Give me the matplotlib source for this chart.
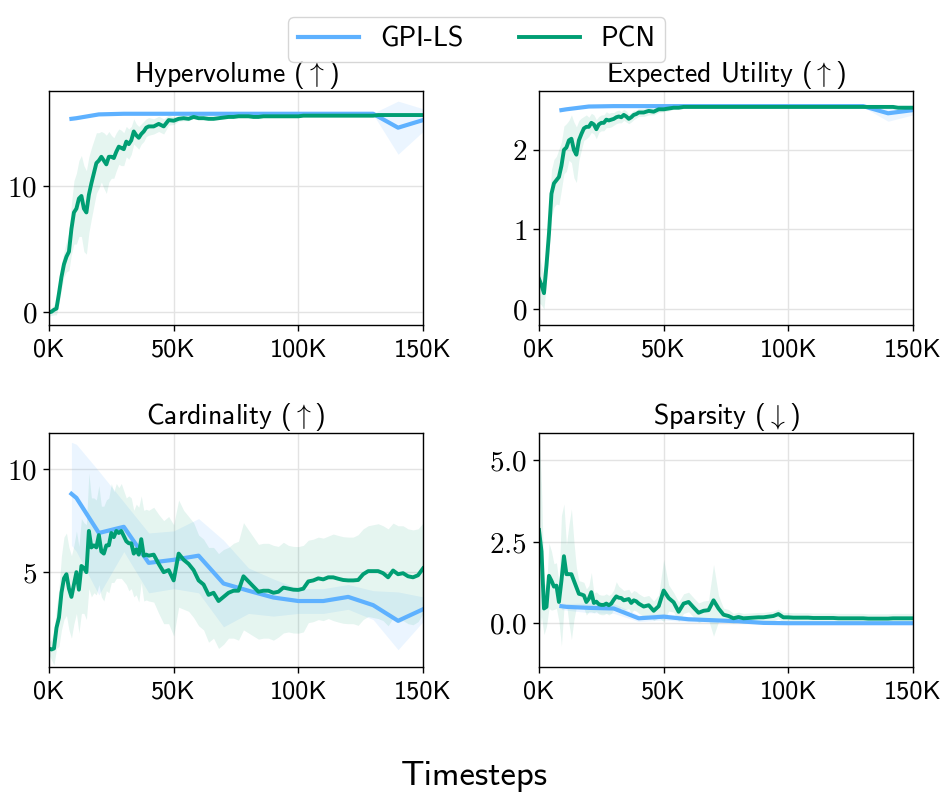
import matplotlib
matplotlib.use("Agg")
import matplotlib.pyplot as plt
import numpy as np

plt.rcParams["mathtext.fontset"] = "cm"
plt.rcParams["font.family"] = ["cmss10", "DejaVu Sans"]
plt.rcParams["axes.unicode_minus"] = False

# ---------------------------------------------------------------- data
# evaluation timesteps (thousands)
PCN_STEPS_K = [0, 1, 2, 3, 4, 5, 6, 7, 8, 9,
               10, 11, 12, 13, 14, 15, 16, 17, 18, 19,
               20, 21, 22, 23, 24, 25, 26, 27, 28, 29,
               30, 31, 32, 33, 34, 35, 36, 37, 38, 39,
               40,
               42, 44, 46, 48, 50, 52, 54, 56, 58, 60,
               62, 64, 66, 68, 70, 72, 74, 76, 78, 80,
               82, 84, 86, 88, 90, 92, 94, 96, 98, 100,
               102, 104, 106, 108, 110, 112, 114, 116, 118, 120,
               122, 124, 126, 128, 130, 132, 134, 136, 138, 140,
               142, 144, 146, 148, 150]
GPI_STEPS_K = [9, 11, 20, 30, 40, 50, 60, 70, 80, 90, 100, 110, 120, 130, 140, 150]

# PCN
pcn_hv = [0.0, 0.05, 0.2, 0.3, 1.5, 2.8, 3.8, 4.4, 4.8, 6.6,
          7.9, 8.2, 9.0, 9.2, 8.2, 7.9, 9.3, 10.2, 11.0, 11.8,
          12.0, 12.3, 12.0, 11.7, 12.3, 12.3, 12.2, 12.7, 13.1, 13.0,
          12.9, 13.5, 13.3, 13.6, 14.3, 14.0, 13.8, 14.1, 14.3, 14.6,
          14.7,
          14.7, 14.9, 14.7, 15.2, 15.15, 15.3, 15.35, 15.3, 15.45, 15.35,
          15.35, 15.3, 15.3, 15.35, 15.4, 15.45, 15.45, 15.5, 15.5, 15.5,
          15.45, 15.45, 15.5, 15.5, 15.5, 15.5, 15.5, 15.5, 15.5, 15.5,
          15.55, 15.55, 15.55, 15.55, 15.55, 15.55, 15.55, 15.55, 15.55, 15.55,
          15.55, 15.55, 15.55, 15.55, 15.55, 15.6, 15.6, 15.6, 15.6, 15.6,
          15.6, 15.6, 15.6, 15.6, 15.6]
pcn_hv_std = [0.3, 0.3, 0.4, 0.5, 0.8, 1.0, 1.0, 1.2, 1.5, 2.0,
              2.5, 2.8, 3.0, 3.2, 3.4, 3.3, 3.0, 2.8, 2.6, 2.4,
              2.2, 2.0, 2.2, 2.3, 2.0, 1.7, 1.6, 1.5, 1.4, 1.4,
              1.3, 1.2, 1.2, 1.1, 1.0, 0.9, 0.9, 0.8, 0.8, 0.7,
              0.7,
              0.6, 0.6, 0.6, 0.4, 0.3, 0.2, 0.2, 0.15, 0.1, 0.1,
              0.1, 0.1, 0.1, 0.1, 0.1, 0.1, 0.1, 0.1, 0.1, 0.1,
              0.1, 0.1, 0.1, 0.1, 0.1, 0.1, 0.1, 0.1, 0.1, 0.1,
              0.1, 0.1, 0.1, 0.1, 0.1, 0.1, 0.1, 0.1, 0.1, 0.1,
              0.1, 0.1, 0.1, 0.1, 0.1, 0.1, 0.1, 0.1, 0.1, 0.1,
              0.1, 0.1, 0.1, 0.1, 0.1]

pcn_eu = [0.38, 0.3, 0.2, 0.55, 0.95, 1.45, 1.58, 1.62, 1.66, 1.8,
          2.0, 2.03, 2.12, 2.14, 2.0, 1.94, 2.12, 2.2, 2.27, 2.29,
          2.29, 2.34, 2.32, 2.26, 2.32, 2.34, 2.34, 2.38, 2.37, 2.38,
          2.39, 2.41, 2.42, 2.41, 2.44, 2.42, 2.39, 2.41, 2.44, 2.45,
          2.47,
          2.47, 2.49, 2.48, 2.51, 2.51, 2.52, 2.53, 2.53, 2.54, 2.54,
          2.54, 2.54, 2.54, 2.54, 2.54, 2.54, 2.54, 2.54, 2.54, 2.54,
          2.54, 2.54, 2.54, 2.54, 2.54, 2.54, 2.54, 2.54, 2.54, 2.54,
          2.54, 2.54, 2.54, 2.54, 2.54, 2.54, 2.54, 2.54, 2.54, 2.54,
          2.54, 2.54, 2.54, 2.54, 2.54, 2.54, 2.54, 2.54, 2.54, 2.54,
          2.54, 2.53, 2.53, 2.53, 2.53]
pcn_eu_std = [0.3, 0.25, 0.2, 0.2, 0.25, 0.3, 0.3, 0.3, 0.35, 0.3,
              0.3, 0.3, 0.25, 0.3, 0.35, 0.35, 0.25, 0.2, 0.15, 0.15,
              0.12, 0.12, 0.12, 0.12, 0.1, 0.1, 0.1, 0.1, 0.09, 0.09,
              0.08, 0.08, 0.08, 0.07, 0.07, 0.07, 0.06, 0.06, 0.06, 0.05,
              0.05,
              0.05, 0.05, 0.04, 0.04, 0.03, 0.03, 0.02, 0.02, 0.02, 0.02,
              0.02, 0.02, 0.02, 0.02, 0.02, 0.02, 0.02, 0.02, 0.02, 0.02,
              0.02, 0.02, 0.02, 0.02, 0.02, 0.02, 0.02, 0.02, 0.02, 0.02,
              0.02, 0.02, 0.02, 0.02, 0.02, 0.02, 0.02, 0.02, 0.02, 0.02,
              0.02, 0.02, 0.02, 0.02, 0.02, 0.02, 0.02, 0.02, 0.02, 0.02,
              0.02, 0.02, 0.02, 0.02, 0.02]

pcn_card = [1.3, 1.25, 1.3, 2.3, 2.8, 4.0, 4.7, 4.9, 4.2, 3.8,
            4.4, 5.0, 4.15, 5.3, 5.2, 5.0, 7.0, 6.2, 6.3, 6.2,
            6.8, 6.0, 5.9, 6.3, 6.3, 6.9, 6.7, 7.0, 6.9, 7.0,
            6.75, 6.5, 6.4, 6.4, 5.9, 6.1, 5.85, 6.6, 5.8, 5.85,
            5.8,
            5.85, 5.4, 5.0, 5.1, 4.6, 5.9, 5.6, 5.4, 5.1, 4.6,
            4.4, 3.9, 4.0, 3.6, 3.8, 4.0, 4.1, 4.1, 4.8, 4.55,
            4.3, 4.05, 4.1, 4.1, 4.0, 4.05, 4.25, 4.2, 4.15, 4.14,
            4.2, 4.55, 4.6, 4.7, 4.65, 4.75, 4.75, 4.68, 4.62, 4.6,
            4.6, 4.62, 4.9, 5.05, 5.05, 5.05, 4.95, 4.75, 5.08, 4.9,
            4.95, 4.8, 4.75, 4.85, 5.18]
pcn_card_std = [0.3, 0.5, 0.8, 1.0, 1.4, 1.8, 2.0, 2.0, 2.0, 2.0,
                1.9, 2.0, 2.1, 2.3, 2.2, 2.3, 2.8, 2.4, 2.3, 2.3,
                2.4, 2.2, 2.3, 2.2, 2.3, 2.4, 2.2, 2.3, 2.2, 2.3,
                2.2, 2.1, 2.3, 2.2, 2.1, 2.2, 2.3, 2.1, 2.2, 2.2,
                2.2,
                2.3, 2.4, 2.5, 2.6, 2.7, 2.6, 2.4, 2.3, 2.3, 2.2,
                2.2, 2.3, 2.2, 2.3, 2.3, 2.2, 2.3, 2.4, 2.6, 2.5,
                2.4, 2.3, 2.3, 2.3, 2.3, 2.2, 2.2, 2.1, 2.1, 2.1,
                2.1, 2.0, 2.0, 2.0, 2.0, 2.0, 2.1, 2.1, 2.1, 2.1,
                2.1, 2.2, 2.2, 2.2, 2.25, 2.3, 2.3, 2.35, 2.3, 2.35,
                2.3, 2.3, 2.3, 2.25, 2.2]

pcn_sp = [2.85, 2.2, 0.45, 0.5, 1.45, 1.3, 1.12, 1.15, 0.65, 1.3,
          2.05, 1.5, 1.5, 1.5, 1.3, 1.1, 0.9, 0.88, 0.85, 0.65,
          0.75, 0.95, 0.62, 0.66, 0.58, 0.56, 0.56, 0.6, 0.55, 0.6,
          0.72, 0.82, 0.78, 0.77, 0.7, 0.72, 0.74, 0.62, 0.7, 0.67,
          0.6,
          0.51, 0.55, 0.38, 0.52, 1.0, 0.77, 0.64, 0.35, 0.6, 0.65,
          0.48, 0.32, 0.38, 0.4, 0.7, 0.45, 0.26, 0.22, 0.15, 0.19,
          0.15, 0.16, 0.17, 0.18, 0.18, 0.2, 0.22, 0.28, 0.18, 0.18,
          0.17, 0.17, 0.17, 0.17, 0.16, 0.16, 0.16, 0.16, 0.16, 0.15,
          0.15, 0.15, 0.15, 0.15, 0.15, 0.14, 0.14, 0.14, 0.14, 0.14,
          0.15, 0.15, 0.15, 0.15, 0.15]
pcn_sp_std = [3.2, 2.0, 0.8, 0.6, 1.0, 0.9, 0.7, 0.7, 0.6, 2.0,
              1.6, 0.9, 1.5, 2.0, 1.2, 0.6, 0.4, 0.4, 0.4, 0.4,
              0.4, 0.6, 0.3, 0.3, 0.3, 0.3, 0.3, 0.3, 0.3, 0.3,
              0.3, 0.45, 0.35, 0.3, 0.3, 0.3, 0.3, 0.3, 0.3, 0.3,
              0.3,
              0.3, 0.3, 0.3, 0.35, 0.95, 0.4, 0.3, 0.3, 0.3, 0.3,
              0.3, 0.3, 0.3, 0.3, 1.1, 0.4, 0.2, 0.2, 0.15, 0.15,
              0.15, 0.15, 0.15, 0.15, 0.15, 0.15, 0.15, 0.15, 0.15, 0.15,
              0.15, 0.15, 0.15, 0.15, 0.15, 0.15, 0.15, 0.15, 0.15, 0.15,
              0.15, 0.15, 0.15, 0.15, 0.15, 0.15, 0.15, 0.15, 0.15, 0.15,
              0.15, 0.15, 0.15, 0.15, 0.15]

# GPI-LS
gpi_hv = [15.3, 15.35, 15.65, 15.7, 15.7, 15.7, 15.7, 15.7, 15.7, 15.7,
          15.7, 15.7, 15.7, 15.7, 14.6, 15.2]
gpi_hv_std = [0.1, 0.1, 0.05, 0.05, 0.05, 0.05, 0.05, 0.05, 0.05, 0.05,
              0.05, 0.05, 0.05, 0.05, 2.1, 0.9]
gpi_eu = [2.50, 2.51, 2.545, 2.55, 2.55, 2.55, 2.55, 2.55, 2.55, 2.55,
          2.55, 2.55, 2.55, 2.55, 2.46, 2.50]
gpi_eu_std = [0.01, 0.01, 0.01, 0.01, 0.01, 0.01, 0.01, 0.01, 0.01, 0.01,
              0.01, 0.01, 0.01, 0.01, 0.1, 0.06]
gpi_card = [8.8, 8.6, 6.9, 7.2, 5.45, 5.6, 5.8, 4.45, 4.1, 3.77,
            3.6, 3.6, 3.8, 3.4, 2.64, 3.2]
gpi_card_std = [2.5, 2.6, 3.0, 1.2, 1.45, 1.4, 1.8, 2.1, 1.1, 0.9,
                0.6, 0.6, 0.6, 0.7, 1.4, 0.6]
gpi_sp = [0.52, 0.5, 0.47, 0.45, 0.15, 0.2, 0.12, 0.09, 0.06, 0.01,
          0.0, 0.0, 0.0, 0.0, 0.0, 0.0]
gpi_sp_std = [0.1, 0.1, 0.15, 0.15, 0.1, 0.1, 0.08, 0.06, 0.04, 0.02,
              0.02, 0.02, 0.02, 0.02, 0.02, 0.02]

TITLES = [r"Hypervolume ($\uparrow$)", r"Expected Utility ($\uparrow$)",
          r"Cardinality ($\uparrow$)", r"Sparsity ($\downarrow$)"]
YTICKS = [[0, 10], [0, 1, 2], [5, 10], [0.0, 2.5, 5.0]]
YTICK_LABELS = [["0", "10"], ["0", "1", "2"], ["5", "10"], ["0.0", "2.5", "5.0"]]
YLIMS = [(-1.0, 17.5), (-0.2, 2.74), (0.4, 11.75), (-1.34, 5.82)]
XTICKS_K = [0, 50, 100, 150]
XTICK_LABELS = ["0K", "50K", "100K", "150K"]

GPI_COLOR = "#5EB1FF"
PCN_COLOR = "#009E73"

# ---------------------------------------------------------------- figure
fig = plt.figure(figsize=(9.48, 8.0), dpi=100)
W, H = 948.0, 800.0
boxes = [(49, 91), (539, 91), (49, 433), (539, 433)]
aw, ah = 374, 234

pcn_x = np.array(PCN_STEPS_K) * 1000
gpi_x = np.array(GPI_STEPS_K) * 1000
series = [
    (gpi_hv, gpi_hv_std, pcn_hv, pcn_hv_std),
    (gpi_eu, gpi_eu_std, pcn_eu, pcn_eu_std),
    (gpi_card, gpi_card_std, pcn_card, pcn_card_std),
    (gpi_sp, gpi_sp_std, pcn_sp, pcn_sp_std),
]

for i, (left, top) in enumerate(boxes):
    ax = fig.add_axes([left / W, 1 - (top + ah) / H, aw / W, ah / H])
    g, gs, p, ps = [np.array(v) for v in series[i]]
    ax.fill_between(gpi_x, g - gs, g + gs, color=GPI_COLOR, alpha=0.12, lw=0)
    ax.fill_between(pcn_x, p - ps, p + ps, color=PCN_COLOR, alpha=0.1, lw=0)
    ax.plot(gpi_x, g, color=GPI_COLOR, lw=3.0, label="GPI-LS")
    ax.plot(pcn_x, p, color=PCN_COLOR, lw=2.8, label="PCN")

    ax.set_xlim(0, 150000)
    ax.set_ylim(*YLIMS[i])
    ax.set_xticks(np.array(XTICKS_K) * 1000)
    ax.set_xticklabels(XTICK_LABELS, fontsize=19)
    ax.set_yticks(YTICKS[i])
    ax.set_yticklabels([f"${t}$" for t in YTICK_LABELS[i]], fontsize=21)
    ax.tick_params(length=4.5, width=1.0, pad=4)
    ax.tick_params(axis="x", pad=5)
    ax.grid(True, color="#e3e3e3", lw=1.0)
    ax.set_axisbelow(True)
    for s in ax.spines.values():
        s.set_linewidth(1.0)
    ax.set_title(TITLES[i], fontsize=20, pad=4)
    if i == 0:
        handles, labels = ax.get_legend_handles_labels()

fig.legend(handles, labels, loc="upper center", bbox_to_anchor=(0.503, 0.996),
           ncol=2, fontsize=20, frameon=True, fancybox=True,
           edgecolor="#cccccc", handlelength=2.2, handletextpad=0.75,
           columnspacing=2.0, borderpad=0.35)
fig.text(0.5, 1 - 776 / H, "Timesteps", ha="center", va="center", fontsize=25)

fig.savefig("out.png", dpi=100)
